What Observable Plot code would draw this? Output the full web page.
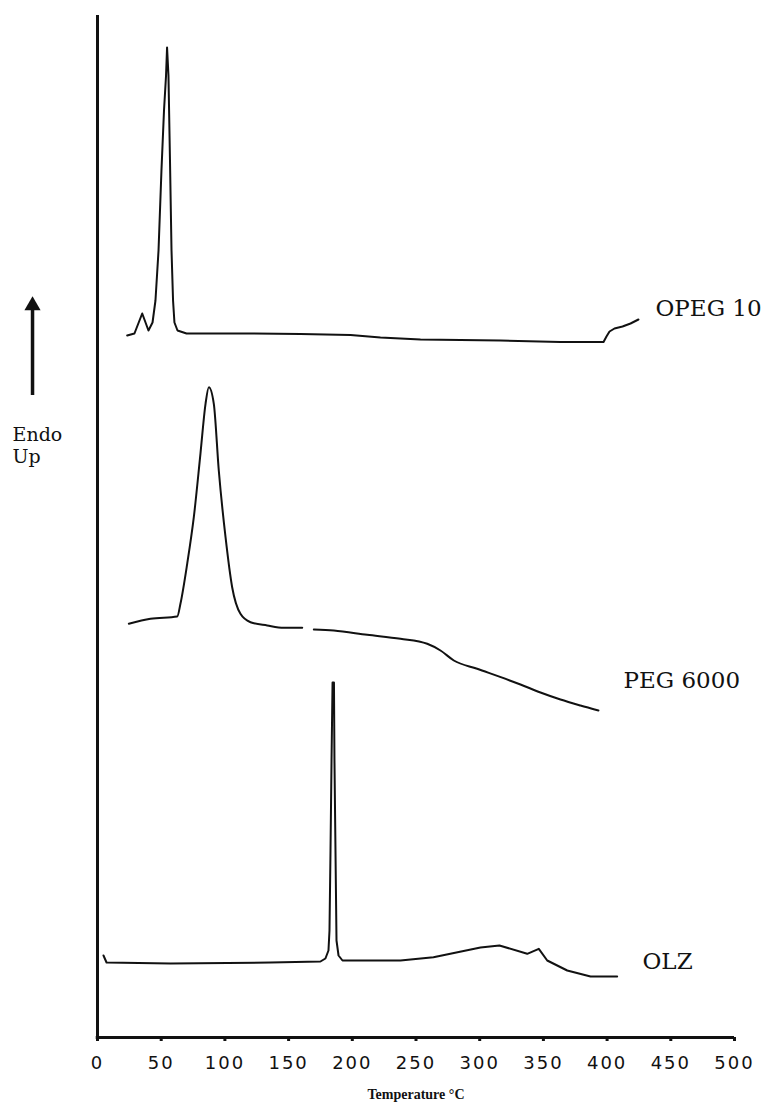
<!DOCTYPE html>
<html>
<head>
<meta charset="utf-8">
<script src="https://cdn.jsdelivr.net/npm/d3@7"></script>
<script src="https://cdn.jsdelivr.net/npm/@observablehq/plot@0.6"></script>
<style>
  html, body { margin: 0; padding: 0; background: #fff; }
  #chart { width: 764px; height: 1109px; }
</style>
</head>
<body>
<div id="chart"></div>
<script>
// ---- Data (temperature °C, heat flow in arbitrary units, offset per curve) ----
const xTicks = [0, 50, 100, 150, 200, 250, 300, 350, 400, 450, 500];

const opegT = [23.3, 29.0, 35.1, 37.7, 40.0, 43.2, 45.5, 47.9, 50.2, 52.2, 53.8, 54.6, 55.7, 56.9, 58.1, 59.3, 60.4, 62.8, 69.9, 120.1, 159.3, 198.6, 222.1, 253.5, 316.3, 363.4, 397.2, 399.5, 401.9, 405.8, 412.1, 418.4, 424.6];
const opegV = [702, 704, 724, 715, 707, 715, 737, 787, 867, 927, 962, 990, 962, 877, 787, 737, 715, 707, 704, 704, 703.5, 702.5, 700, 698, 697, 695.5, 695.5, 701, 706, 709, 711, 714, 718];

const pegT = [24.6, 41.6, 62.6, 65.1, 70.4, 75.6, 80.8, 84.8, 87.4, 91.3, 95.2, 100.5, 105.7, 112.2, 120.1, 133.2, 146.2, 160.7, 165.0, 169.8, 185.5, 211.7, 237.8, 258.8, 269.2, 279.7, 298.0, 332.0, 347.7, 363.4, 379.1, 393.2];
const pegV = [413.7, 418.7, 421, 433.7, 473.7, 520.3, 583.7, 633.7, 650.3, 633.7, 567, 500.3, 450.3, 423.7, 415.3, 412, 409.7, 409.7, null, 408, 407, 402.7, 398.7, 393.7, 387, 377, 368.7, 353, 345, 338, 332, 327];

const olzT = [4.7, 7.1, 57.3, 135.8, 175.0, 178.9, 181.3, 182.1, 182.9, 183.7, 184.5, 185.6, 186.0, 186.8, 187.6, 189.2, 192.3, 237.8, 263.7, 300.6, 315.5, 337.3, 346.4, 353.0, 368.7, 387.0, 407.9];
const olzV = [82, 75, 74, 75, 76, 79, 87, 107, 187, 277, 355, 355, 277, 187, 97, 82, 77, 77, 80.3, 90, 92, 83.7, 88.7, 77, 67, 61, 61];

const seriesNames = ["OPEG 10", "PEG 6000", "OLZ"];
const labelT = [438, 412.9, 427.8];
const labelV = [729, 357, 76];

const endoText = ["Endo", "Up"];
const endoT = [-66.7, -66.7];
const endoV = [603, 581];
const arrowT = -51;
const arrowV = [642, 728];   // shaft bottom, shaft top
const arrowTipV = 732;       // arrowhead position

// ---- Build tables ----
const toRows = (ts, vs) => ts.map((t, i) => ({t, v: vs[i]}));
const opeg = toRows(opegT, opegV);
const peg = toRows(pegT, pegV);
const olz = toRows(olzT, olzV);
const labels = seriesNames.map((name, i) => ({name, t: labelT[i], v: labelV[i]}));
const endo = endoText.map((s, i) => ({s, t: endoT[i], v: endoV[i]}));

const lineStyle = {x: "t", y: "v", stroke: "#111", strokeWidth: 2, curve: "linear"};

const chart = Plot.plot({
  width: 764,
  height: 1109,
  marginLeft: 97,
  marginRight: 30,
  marginTop: 15,
  marginBottom: 72,
  style: {background: "#fff", overflow: "visible"},
  x: {domain: [0, 500]},
  y: {domain: [0, 1022], axis: null},
  marks: [
    Plot.axisX({
      ticks: xTicks, tickSize: 4, tickPadding: 15, strokeWidth: 3,
      fontSize: 18, fontFamily: "DejaVu Sans", label: null,
      tickFormat: d => String(d), fill: "#111", stroke: "#111"
    }),
    Plot.ruleX([0], {y1: 0, y2: 1022, stroke: "#111", strokeWidth: 3}),
    Plot.ruleY([0], {x1: -1, x2: 500, stroke: "#111", strokeWidth: 3}),
    Plot.line(opeg, lineStyle),
    Plot.line(peg, {...lineStyle, curve: "monotone-x"}),
    Plot.line(olz, lineStyle),
    Plot.text(labels, {x: "t", y: "v", text: "name", textAnchor: "start", fontSize: 23, fontFamily: "DejaVu Serif", fill: "#111"}),
    Plot.text(endo, {x: "t", y: "v", text: "s", textAnchor: "start", fontSize: 19, fontFamily: "DejaVu Serif", fill: "#111"}),
    Plot.ruleX([arrowT], {y1: arrowV[0], y2: arrowV[1], stroke: "#111", strokeWidth: 3.5}),
    Plot.dot([{t: arrowT, v: arrowTipV}], {x: "t", y: "v", symbol: "triangle", r: 6, fill: "#111", stroke: "none"}),
    Plot.text(["Temperature °C"], {frameAnchor: "bottom", dy: 61, text: d => d, fontSize: 14, fontWeight: "bold", fontFamily: "Liberation Serif", fill: "#111"})
  ]
});
chart.querySelectorAll("[aria-label='x-axis tick label'] text").forEach(t => t.setAttribute("letter-spacing", "2px"));
document.getElementById("chart").appendChild(chart);
</script>
</body>
</html>
